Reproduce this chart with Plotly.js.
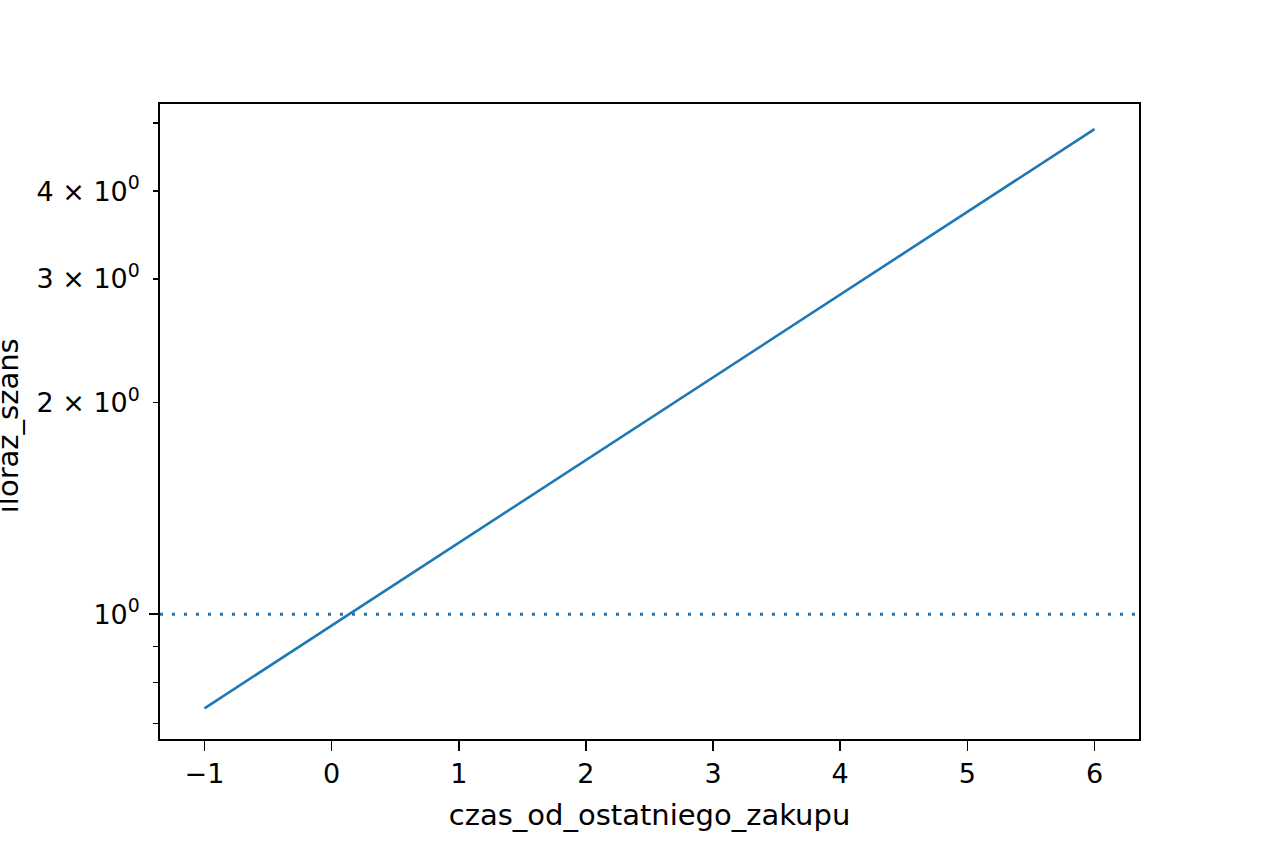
<!DOCTYPE html>
<html>
<head>
<meta charset="utf-8">
<script src="https://cdn.plot.ly/plotly-3.0.1.min.js"></script>
<style>
  html, body { margin: 0; padding: 0; background: #fff; }
  #myChart { width: 1264px; height: 843px; }
</style>
</head>
<body>
<div id="myChart"></div>
<script>
// values
var czas = [-1, 0, 1, 2, 3, 4, 5, 6];
var iloraz = [0.735, 0.964, 1.264, 1.657, 2.173, 2.85, 3.737, 4.9];
var refLevel = 1;

var xTicks = [-1, 0, 1, 2, 3, 4, 5, 6];
var yTicks = [1, 2, 3, 4];
var yTickText = ['10<sup>0</sup>', '2 \u00d7 10<sup>0</sup>', '3 \u00d7 10<sup>0</sup>', '4 \u00d7 10<sup>0</sup>'];
var yMinor = [0.7, 0.8, 0.9, 5];

var xRange = [-1.35, 6.35];
var yRangeLog = [-0.1774, 0.7259];

var tickFont = { family: 'DejaVu Sans', size: 27, color: '#000' };
var titleFont = { family: 'DejaVu Sans', size: 29, color: '#000' };

var line = {
    x: czas,
    y: iloraz,
    type: 'scatter',
    mode: 'lines',
    line: { color: '#1f77b4', width: 2.6 },
    hoverinfo: 'x+y'
};

// axhline at 1, spans whole axis
var ref = {
    x: xRange,
    y: [refLevel, refLevel],
    type: 'scatter',
    mode: 'lines',
    yaxis: 'y2',
    line: { color: '#1f77b4', width: 3, dash: '3px,9px' },
    hoverinfo: 'skip'
};

var layout = {
    width: 1264,
    height: 843,
    paper_bgcolor: '#fff',
    plot_bgcolor: '#fff',
    showlegend: false,
    font: tickFont,
    margin: { l: 160, r: 125, t: 104, b: 104 },
    xaxis: {
        range: xRange,
        tickvals: xTicks,
        ticks: 'outside',
        ticklen: 10,
        tickwidth: 1.6,
        tickcolor: '#000',
        showline: true,
        linecolor: '#000',
        linewidth: 1.8,
        mirror: true,
        showgrid: false,
        zeroline: false,
        tickfont: tickFont,
        automargin: false,
        title: { text: 'czas_od_ostatniego_zakupu', font: titleFont, standoff: 16 }
    },
    yaxis: {
        type: 'log',
        range: yRangeLog,
        tickvals: yTicks,
        ticktext: yTickText,
        ticks: 'outside',
        ticklen: 5,
        tickwidth: 1.6,
        tickcolor: '#000',
        ticklabelstandoff: 8,
        minor: { tickvals: yMinor, ticks: 'outside', ticklen: 5, tickwidth: 1.2, tickcolor: '#000', showgrid: false },
        showline: true,
        linecolor: '#000',
        linewidth: 1.8,
        mirror: true,
        showgrid: false,
        zeroline: false,
        tickfont: tickFont,
        automargin: false
    },
    yaxis2: {
        type: 'log',
        range: yRangeLog,
        overlaying: 'y',
        side: 'left',
        tickvals: [refLevel],
        ticks: 'outside',
        ticklen: 10,
        tickwidth: 1.6,
        tickcolor: '#000',
        showticklabels: false,
        showline: false,
        showgrid: false,
        zeroline: false
    },
    // y title sits partly off the left edge, as in the original
    annotations: [{
        text: 'iloraz_szans',
        font: titleFont,
        textangle: -90,
        xref: 'paper',
        yref: 'paper',
        x: -0.155,
        y: 0.493,
        xanchor: 'center',
        yanchor: 'middle',
        showarrow: false
    }]
};

Plotly.newPlot('myChart', [line, ref], layout, { staticPlot: true });
</script>
</body>
</html>
